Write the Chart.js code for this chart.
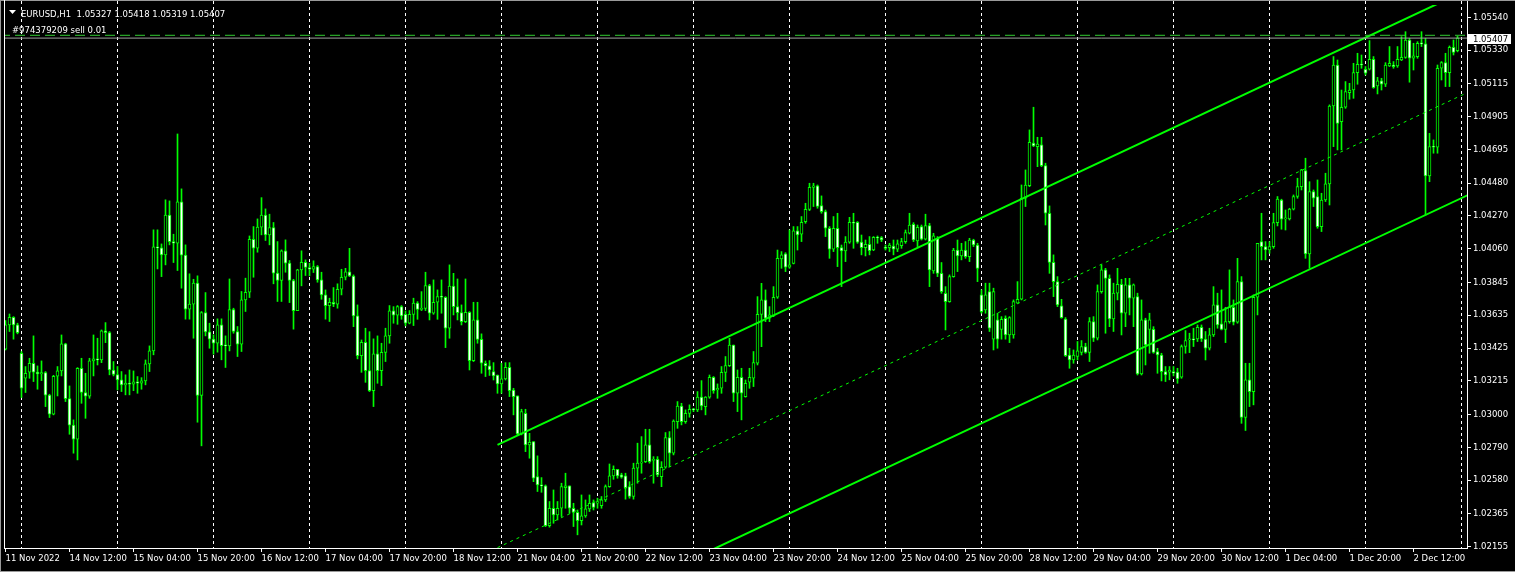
<!DOCTYPE html>
<html>
<head>
<meta charset="utf-8">
<title>EURUSD,H1</title>
<script src="https://cdn.jsdelivr.net/npm/chart.js@4.4.0/dist/chart.umd.min.js"></script>
<style>
  html, body { margin: 0; padding: 0; background: #000; }
  #wrap { position: relative; width: 1515px; height: 572px; overflow: hidden; }
  canvas { display: block; }
</style>
</head>
<body>
<div id="wrap"><canvas id="chart" width="1515" height="572"></canvas></div>
<script>
// --- DATA: EURUSD H1, 11 Nov 2022 20:00 .. 2 Dec 2022 23:00 (one entry per hour bar) ---
// prices in points above 1.00000 (3418 -> 1.03418)
const opens = [
  3418, 3573, 3622, 3573, 3392, 3232, 3271, 3328, 3271, 3260,
  3268, 3124, 3002, 3245, 3279, 3452, 3102, 2932, 2842, 3296,
  3141, 3117, 3343, 3356, 3349, 3535, 3524, 3285, 3256, 3222,
  3190, 3200, 3194, 3209, 3200, 3215, 3324, 3407, 4072, 4066,
  4021, 4275, 4106, 4096, 4360, 4019, 3674, 3706, 3840, 3122,
  3652, 3529, 3482, 3456, 3573, 3441, 3439, 3672, 3531, 3450,
  3733, 3782, 4121, 4064, 4198, 4275, 4149, 4196, 3904, 3857,
  4047, 3968, 3857, 3665, 3925, 3974, 3940, 3930, 3946, 3861,
  3765, 3697, 3718, 3705, 3801, 3878, 3912, 3886, 3631, 3377,
  3462, 3281, 3153, 3388, 3281, 3398, 3503, 3663, 3635, 3690,
  3641, 3584, 3641, 3712, 3673, 3678, 3824, 3648, 3718, 3754,
  3750, 3552, 3822, 3690, 3652, 3594, 3654, 3345, 3605, 3481,
  3328, 3311, 3275, 3253, 3196, 3228, 3302, 3157, 3119, 2876,
  3008, 2806, 2827, 2603, 2550, 2544, 2290, 2401, 2358, 2401,
  2533, 2544, 2401, 2375, 2322, 2352, 2397, 2437, 2433, 2418,
  2454, 2539, 2608, 2650, 2614, 2608, 2539, 2476, 2657, 2689,
  2699, 2806, 2706, 2714, 2603, 2663, 2853, 2753, 2955, 3055,
  2955, 3008, 3034, 3030, 3111, 3051, 3111, 3238, 3157, 3168,
  3270, 3313, 3445, 3136, 3238, 3115, 3207, 3232, 3328, 3641,
  3733, 3616, 3631, 3750, 3995, 4027, 3942, 3967, 4174, 4153,
  4234, 4312, 4453, 4462, 4336, 4298, 4191, 4057, 4191, 4067,
  4046, 4102, 4227, 4229, 4102, 4067, 4089, 4052, 4133, 4131,
  4070, 4067, 4078, 4057, 4080, 4106, 4159, 4217, 4110, 4202,
  4121, 4208, 3918, 4127, 3903, 3775, 3722, 3882, 4052, 4014,
  4052, 4010, 4116, 4084, 3765, 3669, 3786, 3482, 3605, 3545,
  3616, 3509, 3509, 3712, 3737, 4383, 4464, 4735, 4713, 4724,
  4592, 4287, 3974, 3850, 3695, 3611, 3381, 3349, 3371, 3398,
  3435, 3398, 3594, 3488, 3786, 3925, 3871, 3611, 3776, 3833,
  3648, 3829, 3744, 3754, 3260, 3605, 3545, 3545, 3403, 3381,
  3275, 3271, 3275, 3271, 3239, 3435, 3477, 3484, 3484, 3558,
  3482, 3424, 3509, 3701, 3580, 3545, 3594, 3686, 3590, 3850,
  2981, 3222, 3147, 3750, 4106, 4074, 4053, 4074, 4227, 4372,
  4251, 4251, 4313, 4394, 4457, 4560, 4027, 4426, 4394, 4202,
  4372, 4475, 4973, 5235, 4873, 4965, 5058, 5075, 5186, 5240,
  5208, 5208, 5272, 5101, 5133, 5112, 5229, 5235, 5229, 5267,
  5284, 5395, 5278, 5289, 5374, 5370, 4526, 4713, 4709, 5214,
  5250, 5186, 5348, 5327
];
const highs = [
  3601, 3643, 3626, 3584, 3403, 3307, 3360, 3503, 3311, 3343,
  3275, 3130, 3251, 3307, 3509, 3456, 3183, 2966, 3300, 3360,
  3264, 3360, 3509, 3488, 3541, 3588, 3531, 3339, 3307, 3275,
  3254, 3285, 3279, 3243, 3236, 3349, 3439, 4181, 4181, 4091,
  4373, 4366, 4153, 4794, 4443, 4085, 3900, 3865, 3887, 3659,
  3780, 3584, 3510, 3612, 3612, 3503, 3867, 3680, 3563, 3787,
  3872, 4142, 4202, 4251, 4387, 4315, 4281, 4228, 4106, 4053,
  4117, 3985, 3865, 3929, 4047, 3989, 3968, 3983, 3953, 3910,
  3797, 3744, 3812, 3836, 3929, 3935, 4063, 3893, 3701, 3477,
  3552, 3530, 3484, 3503, 3456, 3552, 3697, 3690, 3697, 3697,
  3663, 3665, 3744, 3722, 3786, 3910, 3833, 3861, 3797, 3861,
  3754, 3957, 3903, 3867, 3701, 3867, 3658, 3718, 3718, 3516,
  3343, 3345, 3332, 3253, 3328, 3332, 3332, 3168, 3119, 3034,
  3034, 2880, 2827, 2736, 2597, 2550, 2444, 2518, 2444, 2561,
  2625, 2544, 2433, 2390, 2486, 2454, 2486, 2454, 2465, 2476,
  2550, 2684, 2672, 2650, 2625, 2625, 2571, 2689, 2817, 2859,
  2906, 2906, 2731, 2731, 2699, 2885, 2891, 2966, 3083, 3072,
  3030, 3062, 3040, 3147, 3217, 3115, 3253, 3243, 3196, 3307,
  3371, 3488, 3445, 3285, 3296, 3221, 3296, 3403, 3754, 3839,
  3797, 3690, 3818, 4052, 4042, 4035, 4180, 4202, 4202, 4266,
  4351, 4479, 4479, 4468, 4398, 4308, 4202, 4266, 4287, 4084,
  4138, 4261, 4287, 4234, 4148, 4116, 4138, 4138, 4142, 4138,
  4084, 4095, 4116, 4116, 4127, 4180, 4287, 4227, 4212, 4212,
  4281, 4223, 4159, 4138, 3972, 3818, 3893, 4063, 4116, 4095,
  4106, 4127, 4121, 4095, 3797, 3840, 3840, 3808, 3648, 3626,
  3631, 3626, 3733, 3850, 4468, 4564, 4820, 4965, 4773, 4773,
  4607, 4334, 4021, 3882, 3737, 3620, 3424, 3413, 3467, 3473,
  3456, 3620, 3626, 3829, 3957, 3935, 3893, 3840, 3935, 3865,
  3871, 3871, 3835, 3776, 3733, 3616, 3648, 3562, 3424, 3392,
  3307, 3307, 3307, 3296, 3445, 3537, 3520, 3552, 3573, 3573,
  3531, 3552, 3818, 3776, 3797, 3686, 3925, 3733, 3999, 3882,
  3328, 3328, 3765, 4095, 4287, 4106, 4106, 4287, 4394, 4377,
  4308, 4319, 4404, 4511, 4568, 4639, 4489, 4436, 4500, 4415,
  4543, 4980, 5289, 5267, 5075, 5129, 5118, 5246, 5310, 5299,
  5225, 5391, 5289, 5156, 5150, 5250, 5353, 5257, 5353, 5416,
  5448, 5406, 5374, 5384, 5448, 5406, 4798, 4756, 5235, 5257,
  5310, 5357, 5395, 5418
];
const lows = [
  3413, 3531, 3482, 3516, 3109, 3141, 3232, 3211, 3162, 3217,
  3051, 2981, 2998, 3119, 3247, 3083, 2874, 2753, 2710, 3072,
  2976, 3104, 3247, 3317, 3332, 3460, 3254, 3247, 3158, 3147,
  3126, 3126, 3153, 3136, 3162, 3190, 3275, 3382, 3931, 3882,
  3957, 4085, 3972, 3921, 3808, 3610, 3610, 3488, 2951, 2800,
  3503, 3424, 3386, 3399, 3350, 3301, 3407, 3520, 3371, 3403,
  3659, 3748, 3878, 4038, 4149, 4113, 4085, 3836, 3723, 3723,
  3910, 3716, 3546, 3665, 3823, 3889, 3887, 3908, 3846, 3737,
  3610, 3595, 3690, 3680, 3765, 3861, 3882, 3562, 3356, 3270,
  3206, 3147, 3051, 3200, 3185, 3339, 3456, 3584, 3577, 3609,
  3567, 3580, 3569, 3609, 3665, 3665, 3605, 3641, 3609, 3648,
  3428, 3488, 3637, 3605, 3573, 3588, 3285, 3339, 3456, 3264,
  3243, 3250, 3221, 3136, 3136, 3221, 3115, 2998, 2870, 2870,
  2763, 2721, 2571, 2508, 2503, 2284, 2280, 2305, 2326, 2348,
  2401, 2369, 2284, 2231, 2294, 2343, 2380, 2390, 2401, 2401,
  2444, 2535, 2586, 2593, 2593, 2459, 2465, 2459, 2561, 2625,
  2693, 2689, 2561, 2603, 2539, 2657, 2667, 2742, 2912, 2934,
  2944, 2983, 3019, 3019, 3030, 2998, 3104, 3136, 3104, 3136,
  3211, 3307, 3083, 3019, 2966, 3111, 3168, 3179, 3317, 3434,
  3594, 3594, 3626, 3743, 3935, 3914, 3935, 3963, 4052, 4106,
  4223, 4304, 4330, 4319, 4287, 4138, 3999, 4042, 3946, 3818,
  3978, 4095, 4063, 4095, 4021, 4014, 4021, 4048, 4095, 4106,
  4052, 4042, 4021, 4042, 4063, 4095, 4155, 4106, 4074, 4116,
  4116, 3818, 3903, 3882, 3775, 3541, 3718, 3878, 3914, 3989,
  3999, 3978, 4074, 3850, 3648, 3648, 3531, 3413, 3424, 3482,
  3482, 3460, 3488, 3712, 3733, 4330, 4457, 4713, 4585, 4585,
  4212, 3903, 3754, 3690, 3616, 3371, 3296, 3328, 3349, 3381,
  3392, 3339, 3467, 3477, 3776, 3520, 3562, 3531, 3733, 3509,
  3562, 3637, 3562, 3253, 3253, 3317, 3392, 3392, 3264, 3215,
  3211, 3222, 3247, 3200, 3232, 3392, 3396, 3435, 3467, 3467,
  3349, 3413, 3499, 3552, 3541, 3460, 3584, 3573, 3584, 2944,
  2898, 3051, 3062, 3637, 3989, 3989, 4031, 4063, 4206, 4185,
  4180, 4244, 4308, 4383, 4436, 3999, 3935, 4330, 4191, 4170,
  4362, 4340, 4713, 4692, 4692, 4958, 5016, 5022, 5112, 5214,
  5171, 5203, 5086, 5050, 5075, 5097, 5225, 5214, 5220, 5263,
  5278, 5125, 5203, 5278, 5353, 4276, 4489, 4671, 4671, 5139,
  5097, 5097, 5299, 5319
];
const closes = [
  3573, 3622, 3573, 3524, 3168, 3264, 3328, 3271, 3260, 3268,
  3124, 3002, 3245, 3279, 3452, 3102, 2932, 2842, 3296, 3141,
  3117, 3343, 3356, 3349, 3535, 3524, 3285, 3256, 3222, 3190,
  3200, 3194, 3209, 3200, 3215, 3324, 3407, 4072, 4066, 4021,
  4275, 4106, 4096, 4360, 4019, 3674, 3706, 3840, 3122, 3652,
  3529, 3482, 3456, 3573, 3441, 3439, 3672, 3531, 3450, 3733,
  3782, 4121, 4064, 4198, 4275, 4149, 4196, 3904, 3857, 4047,
  3968, 3857, 3665, 3925, 3974, 3940, 3930, 3946, 3861, 3765,
  3697, 3718, 3705, 3801, 3878, 3912, 3886, 3631, 3377, 3462,
  3281, 3153, 3388, 3281, 3398, 3503, 3663, 3635, 3690, 3631,
  3584, 3641, 3712, 3673, 3678, 3824, 3648, 3718, 3754, 3750,
  3552, 3822, 3690, 3652, 3594, 3654, 3345, 3605, 3481, 3328,
  3311, 3285, 3247, 3196, 3228, 3302, 3153, 3115, 2876, 3019,
  2806, 2823, 2593, 2550, 2544, 2290, 2401, 2358, 2401, 2539,
  2544, 2401, 2375, 2322, 2352, 2397, 2433, 2407, 2444, 2454,
  2539, 2608, 2650, 2608, 2599, 2529, 2476, 2657, 2689, 2693,
  2806, 2699, 2714, 2614, 2663, 2853, 2753, 2959, 3055, 2955,
  3008, 3034, 3030, 3111, 3055, 3111, 3238, 3153, 3168, 3270,
  3313, 3445, 3136, 3238, 3136, 3200, 3238, 3332, 3641, 3733,
  3616, 3637, 3750, 3999, 4021, 3942, 3957, 4174, 4148, 4229,
  4312, 4453, 4462, 4330, 4298, 4191, 4057, 4191, 4067, 4046,
  4102, 4229, 4223, 4102, 4067, 4089, 4048, 4133, 4129, 4116,
  4063, 4084, 4057, 4091, 4106, 4163, 4212, 4116, 4197, 4121,
  4208, 3925, 4142, 3903, 3786, 3722, 3882, 4052, 4014, 4052,
  4010, 4116, 4084, 3935, 3658, 3765, 3552, 3786, 3482, 3609,
  3509, 3620, 3722, 3737, 4383, 4468, 4741, 4717, 4730, 4592,
  4287, 3972, 3850, 3701, 3620, 3377, 3349, 3381, 3407, 3435,
  3398, 3594, 3488, 3786, 3925, 3871, 3611, 3776, 3833, 3648,
  3829, 3744, 3829, 3260, 3605, 3445, 3605, 3398, 3381, 3275,
  3253, 3285, 3264, 3228, 3435, 3473, 3484, 3477, 3558, 3484,
  3424, 3509, 3701, 3573, 3545, 3594, 3686, 3590, 3850, 2981,
  3222, 3147, 3750, 4095, 4074, 4053, 4074, 4227, 4377, 4249,
  4255, 4313, 4394, 4457, 4564, 4027, 4426, 4383, 4202, 4372,
  4475, 4973, 5235, 4862, 4965, 5065, 5075, 5186, 5240, 5235,
  5182, 5272, 5090, 5133, 5112, 5235, 5246, 5225, 5272, 5284,
  5395, 5278, 5293, 5374, 5370, 4526, 4713, 4709, 5214, 5250,
  5186, 5348, 5316, 5407
];

// time axis: bar index of each label and its text
const xTickBars = [0, 16, 32, 48, 64, 80, 96, 112, 128, 144, 160, 176, 192, 208, 224, 240, 256, 272, 288, 304, 320, 336, 352];
const xTickLabels = ['11 Nov 2022', '14 Nov 12:00', '15 Nov 04:00', '15 Nov 20:00', '16 Nov 12:00', '17 Nov 04:00',
  '17 Nov 20:00', '18 Nov 12:00', '21 Nov 04:00', '21 Nov 20:00', '22 Nov 12:00', '23 Nov 04:00', '23 Nov 20:00',
  '24 Nov 12:00', '25 Nov 04:00', '25 Nov 20:00', '28 Nov 12:00', '29 Nov 04:00', '29 Nov 20:00', '30 Nov 12:00',
  '1 Dec 04:00', '1 Dec 20:00', '2 Dec 12:00'];
// day separators (00:00 bars)
const dayBars = [4, 28, 52, 76, 100, 124, 148, 172, 196, 220, 244, 268, 292, 316, 340, 364];

// price axis
const yTicks = [1.05540, 1.05330, 1.05115, 1.04905, 1.04695, 1.04480, 1.04270, 1.04060, 1.03845,
  1.03635, 1.03425, 1.03215, 1.03000, 1.02790, 1.02580, 1.02365, 1.02155];
const yMin = 1.021468;
const yMax = 1.056442;
const xMin = -0.375;
const xMax = 365.375;

// equidistant channel (bar index, price)
const channelBars = [123, 366];
const channelUpper = [1.02806, 1.05722];
const channelMiddle = [1.02149, 1.05065];
const channelLower = [1.01492, 1.04408];

const orderPrice = 1.05425;
const bidPrice = 1.05407;
const headerText = 'EURUSD,H1  1.05327 1.05418 1.05319 1.05407';
const orderText = '#974379209 sell 0.01';

// --- BUILD ---
const LIME = '#00ff00';
const FONT = '"DejaVu Sans", sans-serif';
const toPrice = p => 1 + p / 100000;
const barIdx = closes.map((_, i) => i);

const wickData = barIdx.map(i => ({ x: i, y: [toPrice(lows[i]), toPrice(highs[i])] }));
const bodyData = barIdx.map(i => ({ x: i, y: [toPrice(opens[i]), toPrice(closes[i])] }));
const bodyFill = barIdx.map(i => closes[i] >= opens[i] ? '#000000' : '#ffffff');

const linePts = (ys) => channelBars.map((b, k) => ({ x: b, y: ys[k] }));
const hLine = (p) => [{ x: xMin - 1, y: p }, { x: xMax + 1, y: p }];

// no auto padding from tick labels: the plot keeps its fixed box
const noPad = s => { s.paddingTop = 0; s.paddingBottom = 0; s.paddingLeft = 0; s.paddingRight = 0; };

const overlay = {
  id: 'overlay',
  afterDraw(chart) {
    const ctx = chart.ctx;
    const ys = chart.scales.y;
    ctx.save();
    // window frame
    ctx.fillStyle = '#9a9a9a';
    ctx.fillRect(0, 0, chart.width, 1);
    ctx.fillRect(0, 0, 1, chart.height);
    ctx.fillRect(0, chart.height - 1, chart.width, 1);
    ctx.fillStyle = '#ffffff';
    ctx.fillRect(4, 0, 1, chart.chartArea.bottom);

    // header
    ctx.fillStyle = '#ffffff';
    ctx.beginPath();
    ctx.moveTo(9, 10); ctx.lineTo(16, 10); ctx.lineTo(12.5, 14); ctx.closePath();
    ctx.fill();
    ctx.font = '8.5px ' + FONT;
    ctx.textBaseline = 'alphabetic';
    ctx.textAlign = 'left';
    ctx.fillText(headerText, 21, 16.5);
    ctx.fillText(orderText, 12, 32.5);

    // current price tag
    const py = Math.round(ys.getPixelForValue(bidPrice)) + 1;
    ctx.fillRect(1468, py - 5, 43, 10);
    ctx.fillStyle = '#000000';
    ctx.textBaseline = 'middle';
    ctx.fillText(bidPrice.toFixed(5), 1473, py + 0.5);
    ctx.restore();
  }
};

Chart.defaults.font.family = FONT;
Chart.defaults.font.size = 8.5;
Chart.defaults.color = '#ffffff';

new Chart(document.getElementById('chart'), {
  type: 'bar',
  data: {
    datasets: [
      { type: 'line', data: hLine(bidPrice), borderColor: '#a0a0a0', borderWidth: 1, pointRadius: 0, order: 0 },
      { type: 'line', data: hLine(orderPrice), borderColor: '#32cd32', borderWidth: 1, borderDash: [10, 5], pointRadius: 0, order: 1 },
      {
        type: 'line', data: linePts(channelUpper), borderColor: LIME, borderWidth: 2, pointRadius: 0, order: 2,
        clip: { left: 0, top: -4, right: 0, bottom: 0 }
      },
      { type: 'line', data: linePts(channelMiddle), borderColor: LIME, borderWidth: 1, borderDash: [3, 4], pointRadius: 0, order: 2 },
      { type: 'line', data: linePts(channelLower), borderColor: LIME, borderWidth: 2, pointRadius: 0, order: 2 },
      {
        data: bodyData, backgroundColor: bodyFill, borderColor: LIME, borderWidth: 1,
        borderSkipped: false, barThickness: 3, grouped: false, minBarLength: 1, order: 3
      },
      {
        data: wickData, backgroundColor: LIME, borderWidth: 0,
        barThickness: 1, grouped: false, minBarLength: 1, order: 4
      }
    ]
  },
  options: {
    responsive: false,
    devicePixelRatio: 1,
    animation: false,
    events: [],
    layout: { padding: { left: 4, top: 1, right: 0, bottom: 0 } },
    plugins: { legend: { display: false }, tooltip: { enabled: false } },
    scales: {
      x: {
        type: 'linear', position: 'bottom', min: xMin, max: xMax, offset: false,
        afterBuildTicks: s => { s.ticks = xTickBars.map(v => ({ value: v })); },
        afterFit: s => { s.height = 24; noPad(s); },
        ticks: {
          autoSkip: false, maxRotation: 0, minRotation: 0, align: 'start', padding: 2,
          color: '#ffffff', callback: (v, i) => xTickLabels[i]
        },
        grid: { offset: false, drawOnChartArea: false, drawTicks: true, tickLength: 4, color: '#ffffff' },
        border: { display: true, color: '#ffffff', width: 1 }
      },
      xg: {
        type: 'linear', position: 'top', min: xMin, max: xMax, offset: false,
        afterBuildTicks: s => { s.ticks = dayBars.map(v => ({ value: v })); },
        afterFit: s => { s.height = 0; noPad(s); },
        ticks: { display: false },
        grid: { offset: false, drawTicks: false, color: '#ffffff', lineWidth: 1 },
        border: { display: false, dash: [3, 3] }
      },
      y: {
        type: 'linear', position: 'right', min: yMin, max: yMax,
        afterBuildTicks: s => { s.ticks = yTicks.map(v => ({ value: v })); },
        afterFit: s => { s.width = 48; noPad(s); },
        ticks: { padding: 2, color: '#ffffff', callback: v => v.toFixed(5) },
        grid: { drawOnChartArea: false, drawTicks: true, tickLength: 4, color: '#ffffff' },
        border: { display: true, color: '#ffffff', width: 1 }
      }
    }
  },
  plugins: [overlay]
});
</script>
</body>
</html>
